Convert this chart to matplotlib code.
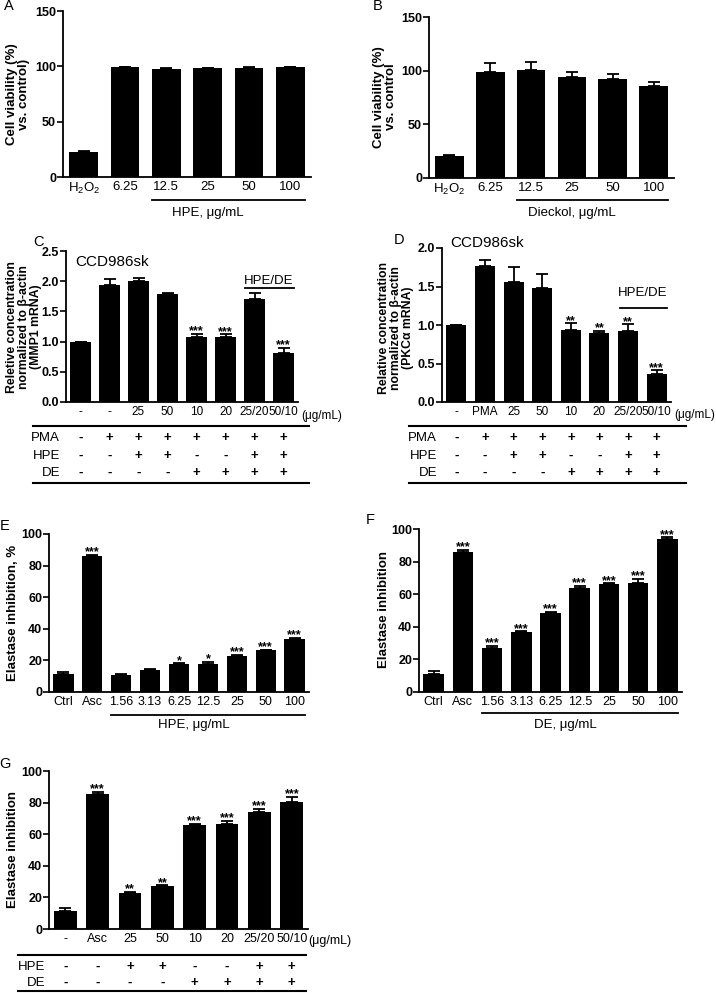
import numpy as np
import matplotlib
matplotlib.use('Agg')
import matplotlib.pyplot as plt
from matplotlib.lines import Line2D
from matplotlib.transforms import blended_transform_factory

plt.rcParams['font.family'] = ['Liberation Sans', 'DejaVu Sans']
plt.rcParams['mathtext.fontset'] = 'custom'
plt.rcParams['mathtext.rm'] = 'Liberation Sans'
plt.rcParams['mathtext.default'] = 'regular'

# ---- data ----
A_labels = ['H$_2$O$_2$', '6.25', '12.5', '25', '50', '100']
A_vals = [23, 99, 98, 98.5, 98.5, 99]
A_err = [0.8, 0.5, 0.4, 0.4, 0.6, 0.4]

B_labels = A_labels
B_vals = [20.5, 99, 100.5, 94.5, 92, 85.5]
B_err = [0.5, 8, 7.5, 4.5, 4.5, 4.3]

C_labels = ['-', '-', '25', '50', '10', '20', '25/20', '50/10']
C_vals = [1.0, 1.94, 2.01, 1.78, 1.08, 1.08, 1.71, 0.81]
C_err = [0, 0.09, 0.04, 0.02, 0.05, 0.04, 0.09, 0.09]
C_sig = ['', '', '', '', '***', '***', '', '***']

D_labels = ['-', 'PMA', '25', '50', '10', '20', '25/20', '50/10']
D_vals = [1.0, 1.76, 1.56, 1.48, 0.93, 0.89, 0.92, 0.36]
D_err = [0, 0.09, 0.19, 0.18, 0.09, 0.03, 0.09, 0.05]
D_sig = ['', '', '', '', '**', '**', '**', '***']

pma_row = ['-', '+', '+', '+', '+', '+', '+', '+']
hpe_row = ['-', '-', '+', '+', '-', '-', '+', '+']
de_row = ['-', '-', '-', '-', '+', '+', '+', '+']

E_labels = ['Ctrl', 'Asc', '1.56', '3.13', '6.25', '12.5', '25', '50', '100']
E_vals = [11.2, 85.8, 10.6, 14.2, 17.8, 17.8, 22.9, 26.3, 33.5]
E_err = [1.5, 1.2, 0.6, 0.4, 0.3, 1.5, 0.5, 0.4, 0.8]
E_sig = ['', '***', '', '', '*', '*', '***', '***', '***']

F_labels = E_labels
F_vals = [11.2, 85.7, 27.1, 36.7, 48.2, 63.7, 66.1, 66.9, 94.1]
F_err = [1.8, 1.6, 1.1, 0.6, 1.0, 1.4, 0.6, 2.5, 0.8]
F_sig = ['', '***', '***', '***', '***', '***', '***', '***', '***']

G_labels = ['-', 'Asc', '25', '50', '10', '20', '25/20', '50/10']
G_vals = [11.6, 85.5, 22.7, 26.9, 65.9, 66.7, 74.3, 80.6]
G_err = [1.7, 1.5, 0.7, 0.7, 0.6, 1.9, 1.9, 3.0]
G_sig = ['', '***', '**', '**', '***', '***', '***', '***']

W, H = 716, 993
fig = plt.figure(figsize=(W / 100, H / 100), dpi=100)


def fx(p):
    return p / W


def fy(p):
    return 1 - p / H


def make_axes(l, t, r, b):
    return fig.add_axes([l / W, 1 - b / H, (r - l) / W, (b - t) / H])


def bar_panel(box, labels, vals, errs, ylim, yticks, ytl, sig=None,
              xfs=9, yfs=9):
    ax = make_axes(*box)
    x = np.arange(len(vals))
    ax.bar(x, vals, width=0.7, color='black',
           yerr=[np.zeros(len(errs)), errs], capsize=4,
           error_kw=dict(elinewidth=1.3, capthick=1.3, ecolor='black'))
    ax.set_xlim(-0.5, len(vals) - 0.5)
    ax.set_ylim(*ylim)
    ax.set_yticks(yticks, ytl, fontweight='bold', fontsize=yfs)
    ax.set_xticks(x, labels, fontsize=xfs)
    ax.tick_params(axis='x', length=0, pad=3)
    ax.tick_params(axis='y', length=4, width=1.2, pad=1)
    for s in ['top', 'right']:
        ax.spines[s].set_visible(False)
    for s in ['left', 'bottom']:
        ax.spines[s].set_linewidth(1.3)
    if sig:
        for xi, v, e, s in zip(x, vals, errs, sig):
            if s:
                ax.annotate(s, (xi, v + e), xytext=(0, -2.5),
                            textcoords='offset points', ha='center',
                            va='bottom', fontsize=9, fontweight='bold')
    return ax


def ylabel(x, y, text, fs=9.5, ls=1.1):
    fig.text(fx(x), fy(y), text, rotation=90, ha='center', va='center',
             fontsize=fs, fontweight='bold', linespacing=ls)


def letter(x, y, s):
    fig.text(fx(x), fy(y), s, ha='center', va='center', fontsize=10.5)


def hline(x0, x1, y, lw=1.5):
    fig.add_artist(Line2D([fx(x0), fx(x1)], [fy(y), fy(y)],
                          transform=fig.transFigure, color='black', lw=lw))


def underline(ax, n, y_line, y_text, text):
    tr = blended_transform_factory(ax.transData, fig.transFigure)
    ax.plot([1.65, n - 0.65], [fy(y_line)] * 2, color='black', lw=1.3,
            transform=tr, clip_on=False)
    ax.text((1 + n - 1) / 2, fy(y_text), text, transform=tr, ha='center',
            va='center', fontsize=9.5)


def sign_rows(ax, names, rows, ys, label_x, fs=9.5):
    tr = blended_transform_factory(ax.transData, fig.transFigure)
    for name, row, y in zip(names, rows, ys):
        fig.text(fx(label_x), fy(y), name, ha='right', va='center',
                 fontsize=fs)
        for i, c in enumerate(row):
            ax.text(i, fy(y), c, transform=tr, ha='center', va='center',
                    fontsize=fs, fontweight='bold')


# ---- A ----
axA = bar_panel((63, 11, 311, 177), A_labels, A_vals, A_err, (0, 150),
                [0, 50, 100, 150], ['0', '50', '100', '150'], xfs=9.5)
letter(9, 6, 'A')
ylabel(18, 94, 'Cell viability (%)\nvs. control)')
underline(axA, len(A_vals), 200, 213, 'HPE, \u03bcg/mL')

# ---- B ----
axB = bar_panel((429, 17, 674, 178), B_labels, B_vals, B_err, (0, 150),
                [0, 50, 100, 150], ['0', '50', '100', '150'], xfs=9.5)
letter(378, 6, 'B')
ylabel(385, 97, 'Cell viability (%)\nvs. control')
underline(axB, len(B_vals), 200, 213, 'Dieckol, \u03bcg/mL')

# ---- C ----
axC = bar_panel((66, 251, 298, 402), C_labels, C_vals, C_err, (0, 2.5),
                np.arange(0, 2.6, 0.5), ['0.0', '0.5', '1.0', '1.5', '2.0', '2.5'],
                sig=C_sig, xfs=8.5)
letter(38, 242, 'C')
ylabel(24, 327, 'Reletive concentration\nnormalized to \u03b2-actin\n(MMP1 mRNA)',
       fs=8.8, ls=1.0)
axC.text(0.04, 0.93, 'CCD986sk', transform=axC.transAxes, fontsize=11,
         va='center')
axC.plot([6 - 0.32, 7 + 0.35], [1.89, 1.89], color='black', lw=1.3)
axC.text(6.5, 2.01, 'HPE/DE', ha='center', va='center', fontsize=9.5)
axC.text(7.6, -0.23, '(\u03bcg/mL)', ha='left', va='center', fontsize=8.5)
hline(33, 309, 426)
sign_rows(axC, ['PMA', 'HPE', 'DE'], [pma_row, hpe_row, de_row],
          [438, 456, 473], 60)
hline(33, 309, 483)

# ---- D ----
axD = bar_panel((442, 248, 671, 402), D_labels, D_vals, D_err, (0, 2.0),
                np.arange(0, 2.1, 0.5), ['0.0', '0.5', '1.0', '1.5', '2.0'],
                sig=D_sig, xfs=8.5)
letter(399, 240, 'D')
ylabel(396, 328, 'Relative concentration\nnormalized to \u03b2-actin\n(PKC\u03b1 mRNA)',
       fs=8.8, ls=1.0)
axD.text(0.035, 1.03, 'CCD986sk', transform=axD.transAxes, fontsize=11,
         va='center')
axD.plot([6 - 0.28, 7 + 0.35], [1.22, 1.22], color='black', lw=1.3)
axD.text(6.5, 1.415, 'HPE/DE', ha='center', va='center', fontsize=9.5)
axD.text(7.62, -0.17, '(\u03bcg/mL)', ha='left', va='center', fontsize=8.5)
hline(409, 686, 426)
sign_rows(axD, ['PMA', 'HPE', 'DE'], [pma_row, hpe_row, de_row],
          [438, 456, 473], 437)
hline(409, 686, 483)

# ---- E ----
axE = bar_panel((49, 534, 309, 692), E_labels, E_vals, E_err, (0, 100),
                range(0, 101, 20), [str(v) for v in range(0, 101, 20)],
                sig=E_sig)
letter(5, 526, 'E')
ylabel(13, 613, 'Elastase inhibition, %')
underline(axE, len(E_vals), 715, 725, 'HPE, \u03bcg/mL')

# ---- F ----
axF = bar_panel((419, 529, 682, 692), F_labels, F_vals, F_err, (0, 100),
                range(0, 101, 20), [str(v) for v in range(0, 101, 20)],
                sig=F_sig)
letter(370, 520, 'F')
ylabel(384, 610, 'Elastase inhibition')
underline(axF, len(F_vals), 713, 725, 'DE, \u03bcg/mL')

# ---- G ----
axG = bar_panel((49, 771, 308, 929), G_labels, G_vals, G_err, (0, 100),
                range(0, 101, 20), [str(v) for v in range(0, 101, 20)],
                sig=G_sig, xfs=9)
letter(5, 764, 'G')
ylabel(13, 850, 'Elastase inhibition')
axG.text(7.5, -7.6, '(\u03bcg/mL)', ha='left', va='center', fontsize=9)
hline(18, 306, 955)
sign_rows(axG, ['HPE', 'DE'], [hpe_row, de_row], [967, 983], 45)
hline(18, 306, 991)

fig.savefig('out.png', dpi=100)
